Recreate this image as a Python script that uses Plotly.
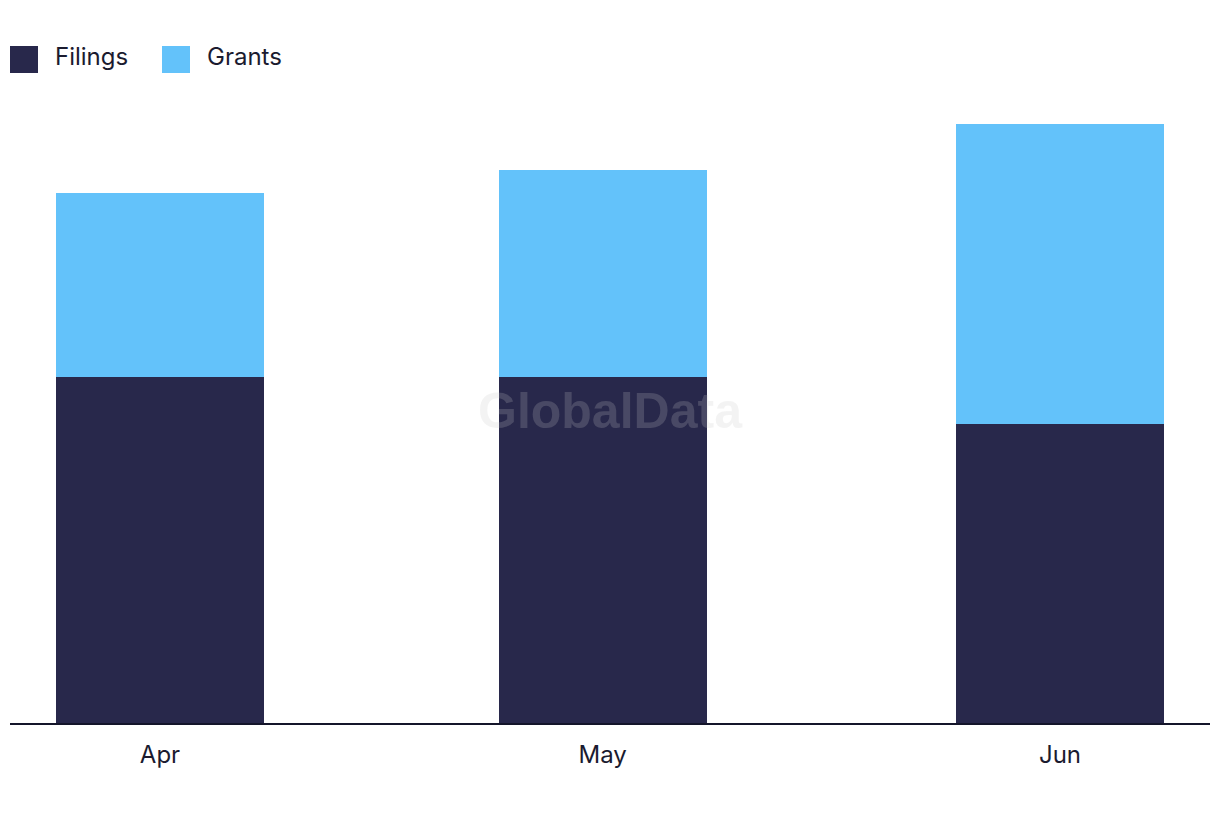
import plotly.graph_objects as go

months = ["2023-04-01", "2023-05-01", "2023-06-01"]
month_labels = ["Apr", "May", "Jun"]
filings = [15, 15, 13]
grants = [8, 9, 13]

DARK = "#28284B"
LIGHT = "#63C2FA"
TEXT = "#1B1B2F"
FONT = "Inter, 'Open Sans', sans-serif"

bar_width_ms = 14.1 * 86400000

fig = go.Figure()
fig.add_trace(go.Bar(x=months, y=filings, name="Filings", marker=dict(color=DARK, line=dict(width=0)),
                     width=bar_width_ms, showlegend=False))
fig.add_trace(go.Bar(x=months, y=grants, name="Grants", marker=dict(color=LIGHT, line=dict(width=0)),
                     width=bar_width_ms, showlegend=False))

# Legend drawn as squares + text (paper coords: plot spans page x 10..1210, y 95..723)
legend_items = [("Filings", DARK, 10), ("Grants", LIGHT, 162)]
for name, col, px in legend_items:
    fig.add_shape(type="rect", xref="paper", yref="paper",
                  x0=(px - 10) / 1200, x1=(px + 28 - 10) / 1200,
                  y0=(723 - 73) / 628, y1=(723 - 46) / 628,
                  fillcolor=col, line=dict(width=0))
    fig.add_annotation(xref="paper", yref="paper", x=(px + 43 - 10) / 1200, y=(723 - 57) / 628,
                       text=name, showarrow=False, xanchor="left", yanchor="middle",
                       font=dict(family=FONT, size=24, color=TEXT))

# Watermark
fig.add_annotation(xref="paper", yref="paper", x=(610 - 10) / 1200, y=(723 - 411) / 628,
                   text="<b>GlobalData</b>", showarrow=False, xanchor="center", yanchor="middle",
                   font=dict(family="Liberation Sans, Arial, sans-serif", size=50, color="rgba(200,200,200,0.21)"))

fig.update_layout(
    barmode="stack",
    width=1220, height=822,
    margin=dict(l=2, r=18, t=87, b=107),
    paper_bgcolor="white", plot_bgcolor="white",
    showlegend=False,
    xaxis=dict(type="date", range=["2023-03-21 20:00", "2023-06-11 04:00"],
               tickvals=months, ticktext=month_labels,
               showgrid=False, zeroline=False,
               showline=True, linecolor="#14152A", linewidth=2,
               ticks="", ticklabelstandoff=9,
               tickfont=dict(family=FONT, size=24, color=TEXT)),
    yaxis=dict(range=[0, 27.26], visible=False, showgrid=False, zeroline=False),
)

fig.write_html("out.html")
